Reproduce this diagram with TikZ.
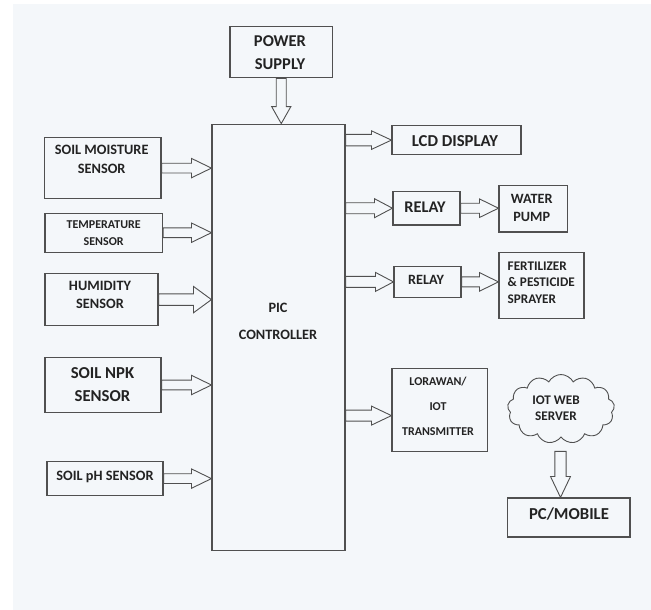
\documentclass[tikz,border=0pt]{standalone}
\usepackage{fontspec}
\setmainfont{Carlito}
\usetikzlibrary{calc,shapes.symbols}
\definecolor{bg}{RGB}{244,247,250}
\definecolor{ln}{RGB}{80,80,80}
\definecolor{tx}{RGB}{35,35,35}
\newcommand\fs[2]{\fontsize{#1pt}{#2pt}\selectfont\bfseries}
% horizontal hollow block arrow: from, to, shaft half, head half, head length
\newcommand\harrow[5]{\draw[blockarr] let \p1=(#1), \p2=(#2) in
  (\x1,\y1+#3) -- (\x2-#5,\y1+#3) -- (\x2-#5,\y1+#4) -- (\x2,\y1) --
  (\x2-#5,\y1-#4) -- (\x2-#5,\y1-#3) -- (\x1,\y1-#3) -- cycle;}
% vertical (downward) hollow block arrow
\newcommand\varrow[5]{\draw[blockarr] let \p1=(#1), \p2=(#2) in
  (\x1-#3,\y1) -- (\x1-#3,\y2+#5) -- (\x1-#4,\y2+#5) -- (\x1,\y2) --
  (\x1+#4,\y2+#5) -- (\x1+#3,\y2+#5) -- (\x1+#3,\y1) -- cycle;}
\begin{document}
\begin{tikzpicture}[x=1pt,y=-1pt,
  box/.style 2 args={draw=ln,line width=1.1pt,inner sep=0pt,minimum width=#1,minimum height=#2},
  txt/.style={align=center,inner sep=0pt,text=tx},
  blockarr/.style={draw=ln,line width=0.9pt,line join=miter}]
\useasboundingbox (0,0) rectangle (651,610);
\fill[white] (0,0) rectangle (651,610);
\fill[bg] (12.5,4) rectangle (651,610);

% boxes
\node[box={102.5pt}{51pt}] (pow) at (281.25,52.3) {};
\node[box={133pt}{426.5pt}] (pic) at (278.5,337.4) {};
\node[box={116.5pt}{61.4pt}] (sm) at (102.75,168.1) {};
\node[box={117.5pt}{38.9pt}] (temp) at (103.75,232.7) {};
\node[box={113pt}{52.1pt}] (hum) at (101.5,299.6) {};
\node[box={116pt}{55.6pt}] (npk) at (103,385) {};
\node[box={116pt}{33.5pt}] (ph) at (105,478.6) {};
\node[box={129pt}{29.6pt}] (lcd) at (456.5,140.1) {};
\node[box={67pt}{33.5pt}] (rA) at (426.5,208.2) {};
\node[box={68.5pt}{46.3pt}] (wp) at (533.25,208.8) {};
\node[box={67pt}{30.7pt}] (rB) at (427.5,281.9) {};
\node[box={85pt}{66.1pt}] (fert) at (541.5,285.2) {};
\node[box={95.5pt}{82.9pt}] (lora) at (439.75,409.9) {};
\node[box={122.5pt}{39pt}] (pc) at (568.75,517.5) {};
\node[draw=ln,line width=0.9pt,cloud,cloud puffs=13,cloud puff arc=125,
      cloud ignores aspect,inner sep=0pt,minimum width=107pt,minimum height=69pt] (cloud) at (561,409) {};

% texts
\node[txt,font=\fs{16.5}{22.6}] (powt) at (280,52.9) {POWER\\SUPPLY};
\node[txt,font=\fs{14.3}{19.5}] (smt) at (101.7,159.5) {SOIL MOISTURE\\SENSOR};
\node[txt,font=\fs{12}{16.3}] (tempt) at (103.7,233) {TEMPERATURE\\SENSOR};
\node[txt,font=\fs{14.3}{18.3}] (humt) at (100,295.1) {HUMIDITY\\SENSOR};
\node[txt,font=\fs{16.7}{22.6}] (npkt) at (102.5,384.8) {SOIL NPK\\SENSOR};
\node[txt,font=\fs{14.3}{17},text depth=0pt] (pht) at (105,475.5) {SOIL pH SENSOR};
\node[txt,font=\fs{14.3}{27.2}] (pict) at (278,321) {PIC\\CONTROLLER};
\node[txt,font=\fs{16.7}{20}] (lcdt) at (455,140.9) {LCD DISPLAY};
\node[txt,font=\fs{16.3}{20}] (rAt) at (425,207.4) {RELAY};
\node[txt,font=\fs{14.2}{17.9}] (wpt) at (531.7,208.2) {WATER\\PUMP};
\node[txt,font=\fs{14.2}{17}] (rBt) at (426,279.8) {RELAY};
\node[txt,font=\fs{13.2}{16.9},align=left,anchor=west] (fertt) at (507.5,282.7) {FERTILIZER\\\& PESTICIDE\\SPRAYER};
\node[txt,font=\fs{12}{24.9}] (lorat) at (438,406.2) {LORAWAN/\\IOT\\TRANSMITTER};
\node[txt,font=\fs{13.2}{16.3}] (cloudt) at (556,408.2) {IOT WEB\\SERVER};
\node[txt,font=\fs{16.7}{20}] (pct) at (569,513.6) {PC/MOBILE};

% arrows
\varrow{pow.south}{pow.south |- pic.north}{5pt}{9.6pt}{17pt}
\harrow{sm.east}{sm.east -| pic.west}{4.9pt}{9.7pt}{20pt}
\harrow{temp.east}{temp.east -| pic.west}{4.9pt}{9.7pt}{20pt}
\harrow{hum.east}{hum.east -| pic.west}{5.8pt}{13.2pt}{18pt}
\harrow{npk.east}{npk.east -| pic.west}{4.9pt}{9.7pt}{20pt}
\harrow{ph.east}{ph.east -| pic.west}{4.9pt}{9.7pt}{20pt}
\harrow{pic.east |- lcd.west}{lcd.west}{5.8pt}{9.3pt}{20pt}
\harrow{pic.east |- rA.west}{rA.west}{5.5pt}{9.5pt}{18pt}
\harrow{pic.east |- rB.west}{rB.west}{5.5pt}{9.5pt}{18pt}
\coordinate (lorain) at ($(lora.west)+(0,5.7)$);
\harrow{pic.east |- lorain}{lorain}{5.5pt}{9.5pt}{20pt}
\harrow{rA.east}{rA.east -| wp.west}{5pt}{9.3pt}{19pt}
\harrow{rB.east}{rB.east -| fert.west}{5pt}{9.3pt}{19pt}
\coordinate (cloudout) at ($(cloud.center)+(-0.5,42.4)$);
\varrow{cloudout}{cloudout |- pc.north}{5.6pt}{10pt}{21pt}
\end{tikzpicture}
\end{document}
